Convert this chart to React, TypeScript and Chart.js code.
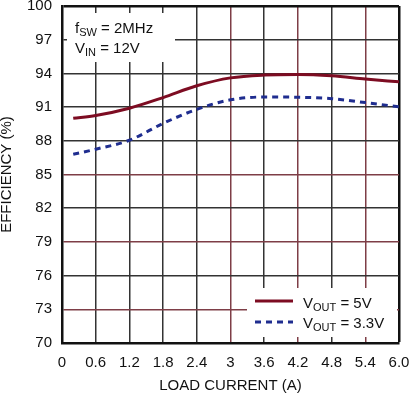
import React, { useEffect, useRef } from "react";
import { Chart, registerables } from "chart.js";

Chart.register(...registerables);

const loadCurrent = [0.2, 0.6, 1.2, 1.8, 2.4, 3.0, 3.6, 4.2, 4.8, 5.4, 6.0];
const eff5V = [90.0, 90.25, 90.9, 91.85, 92.9, 93.6, 93.85, 93.9, 93.78, 93.5, 93.25];
const eff3V3 = [86.8, 87.25, 88.05, 89.55, 90.8, 91.65, 91.9, 91.88, 91.75, 91.4, 91.03];

const xTickValues = [0, 0.6, 1.2, 1.8, 2.4, 3, 3.6, 4.2, 4.8, 5.4, 6];
const xTickLabels = ["0", "0.6", "1.2", "1.8", "2.4", "3", "3.6", "4.2", "4.8", "5.4", "6.0"];
const yTickValues = [70, 73, 76, 79, 82, 85, 88, 91, 94, 97, 100];
const yTickLabels = ["70", "73", "76", "79", "82", "85", "88", "91", "94", "97", "100"];

const redX = [3, 4.2, 5.4];
const redY = [73, 79, 85];

const FONT = '"Liberation Sans", Arial, sans-serif';
const FS = 15;
const SUB = 11;
const C5 = "#7d0c22";
const C33 = "#1f2d8f";
const GRID = "#333333";
const GRID_RED = "#7e3e47";
const BORDER = "#111111";

function drawSubText(ctx: CanvasRenderingContext2D, x: number, y: number, parts: [string, boolean][]) {
  let cx = x;
  for (const [t, sub] of parts) {
    ctx.font = `${sub ? SUB : FS}px ${FONT}`;
    ctx.fillText(t, cx, sub ? y + 3 : y);
    cx += ctx.measureText(t).width;
  }
}

const overlayPlugin = {
  id: "overlay",
  beforeDatasetsDraw(chart: any) {
    const { ctx, chartArea } = chart;
    const { left, top, right, bottom } = chartArea;
    ctx.save();
    ctx.fillStyle = "#ffffff";
    ctx.fillRect(left + 5, top + 7, 108, 49);
    ctx.fillRect(right - 152, bottom - 55, 150, 49);
    ctx.fillStyle = "#111111";
    ctx.textBaseline = "alphabetic";
    ctx.textAlign = "left";
    drawSubText(ctx, left + 13, top + 27, [["f", false], ["SW", true], [" = 2MHz", false]]);
    drawSubText(ctx, left + 13, top + 47, [["V", false], ["IN", true], [" = 12V", false]]);
    ctx.lineWidth = 3;
    ctx.strokeStyle = C5;
    ctx.beginPath();
    ctx.moveTo(right - 144, bottom - 42);
    ctx.lineTo(right - 106, bottom - 42);
    ctx.stroke();
    ctx.strokeStyle = C33;
    ctx.setLineDash([6, 5]);
    ctx.beginPath();
    ctx.moveTo(right - 144, bottom - 21);
    ctx.lineTo(right - 106, bottom - 21);
    ctx.stroke();
    ctx.setLineDash([]);
    drawSubText(ctx, right - 96, bottom - 35, [["V", false], ["OUT", true], [" = 5V", false]]);
    drawSubText(ctx, right - 96, bottom - 15, [["V", false], ["OUT", true], [" = 3.3V", false]]);
    ctx.restore();
  },
};

export default function App() {
  const ref = useRef<HTMLCanvasElement | null>(null);
  useEffect(() => {
    if (!ref.current) return;
    const chart = new Chart(ref.current, {
      type: "line",
      data: {
        datasets: [
          {
            label: "VOUT = 5V",
            data: loadCurrent.map((x, i) => ({ x, y: eff5V[i] })),
            borderColor: C5,
            borderWidth: 3,
            pointRadius: 0,
            cubicInterpolationMode: "monotone",
            fill: false,
          },
          {
            label: "VOUT = 3.3V",
            data: loadCurrent.map((x, i) => ({ x, y: eff3V3[i] })),
            borderColor: C33,
            borderWidth: 3,
            borderDash: [6, 5],
            pointRadius: 0,
            cubicInterpolationMode: "monotone",
            fill: false,
          },
        ],
      },
      options: {
        animation: false,
        responsive: false,
        maintainAspectRatio: false,
        devicePixelRatio: 1,
        layout: { padding: { top: 6, right: 11, left: 0, bottom: 0 } },
        plugins: { legend: { display: false }, tooltip: { enabled: false } },
        scales: {
          x: {
            type: "linear",
            min: 0,
            max: 6,
            afterBuildTicks: (s: any) => {
              s.ticks = xTickValues.map((v) => ({ value: v }));
            },
            afterFit: (s: any) => {
              s.height = 53;
              s.paddingRight = 0;
              s.paddingLeft = 0;
            },
            ticks: {
              autoSkip: false,
              maxRotation: 0,
              padding: 11,
              color: "#111",
              font: { family: FONT, size: FS },
              callback: (_v: any, i: number) => xTickLabels[i],
            },
            grid: {
              drawTicks: false,
              color: (c: any) =>
                c.tick && c.tick.value === 6 ? BORDER : redX.includes(c.tick?.value) ? GRID_RED : GRID,
              lineWidth: (c: any) => (c.tick && c.tick.value === 6 ? 2.5 : 1.5),
            },
            border: { color: BORDER, width: 2.5 },
            title: {
              display: true,
              text: "LOAD CURRENT (A)",
              color: "#111",
              font: { family: FONT, size: FS, lineHeight: 1.2 },
              padding: { top: 0, bottom: 1 },
            },
          },
          y: {
            type: "linear",
            min: 70,
            max: 100,
            afterBuildTicks: (s: any) => {
              s.ticks = yTickValues.map((v) => ({ value: v }));
            },
            afterFit: (s: any) => {
              s.width = 62;
              s.paddingTop = 0;
              s.paddingBottom = 0;
            },
            ticks: {
              padding: 10,
              color: "#111",
              font: { family: FONT, size: FS },
              callback: (_v: any, i: number) => yTickLabels[i],
            },
            grid: {
              drawTicks: false,
              color: (c: any) =>
                c.tick && c.tick.value === 100 ? BORDER : redY.includes(c.tick?.value) ? GRID_RED : GRID,
              lineWidth: (c: any) => (c.tick && c.tick.value === 100 ? 2.5 : 1.5),
            },
            border: { color: BORDER, width: 2.5 },
            title: {
              display: true,
              text: "EFFICIENCY (%)",
              color: "#111",
              font: { family: FONT, size: FS, lineHeight: 1.0 },
              padding: { top: -1, bottom: 0 },
            },
          },
        },
      },
      plugins: [overlayPlugin],
    } as any);
    return () => chart.destroy();
  }, []);
  return (
    <div style={{ position: "absolute", left: 0, top: 0, width: 410, height: 396, background: "#fff" }}>
      <canvas ref={ref} width={410} height={396} style={{ display: "block" }} />
    </div>
  );
}
